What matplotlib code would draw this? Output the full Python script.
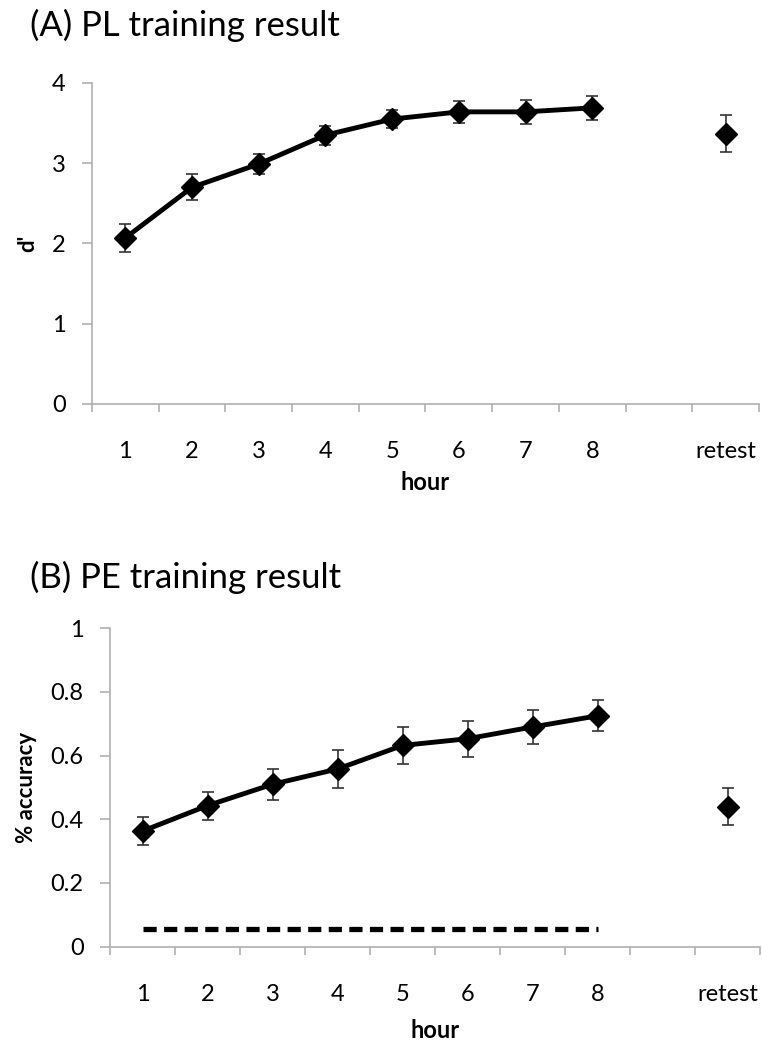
import matplotlib.pyplot as plt
from matplotlib.ticker import FixedLocator

# category labels (slot 8 is an empty gap before retest)
categories = ["1", "2", "3", "4", "5", "6", "7", "8", "", "retest"]
hours = [0, 1, 2, 3, 4, 5, 6, 7]
retest_pos = 9

# (A) PL training: d'
pl_dprime = [2.07, 2.70, 2.99, 3.35, 3.55, 3.64, 3.64, 3.69]
pl_err = [0.17, 0.16, 0.13, 0.12, 0.11, 0.14, 0.15, 0.15]
pl_retest = 3.37
pl_retest_err = 0.23

# (B) PE training: accuracy
pe_acc = [0.363, 0.443, 0.510, 0.558, 0.632, 0.653, 0.690, 0.725]
pe_err = [0.044, 0.044, 0.049, 0.061, 0.057, 0.057, 0.054, 0.049]
pe_retest = 0.440
pe_retest_err = 0.059
chance = 0.055

plt.rcParams["font.family"] = ["Lato", "DejaVu Sans"]

fig = plt.figure(figsize=(7.62, 10.45), dpi=100)
ax1 = fig.add_axes([0.1207, 0.6134, 0.8753, 0.3072])
ax2 = fig.add_axes([0.1444, 0.0941, 0.8530, 0.3047])

grey = "#b0b0b0"


def style_axes(ax, ylim, yticks, yticklabels, ylabel, xlabelpad):
    ax.set_xlim(-0.5, 9.5)
    ax.set_ylim(*ylim)
    for s in ["top", "right"]:
        ax.spines[s].set_visible(False)
    for s in ["left", "bottom"]:
        ax.spines[s].set_color(grey)
        ax.spines[s].set_linewidth(1.2)
    ax.set_yticks(yticks)
    ax.set_yticklabels(yticklabels)
    ax.tick_params(axis="y", length=7, width=1.2, color=grey, labelsize=17, pad=12)
    ax.set_xticks(range(len(categories)))
    ax.set_xticklabels(categories)
    ax.tick_params(axis="x", which="major", length=0, labelsize=17, pad=27)
    ax.xaxis.set_minor_locator(FixedLocator([i - 0.5 for i in range(len(categories) + 1)]))
    ax.tick_params(axis="x", which="minor", length=6, width=1.2, color=grey, direction="out")
    ax.set_xlabel("hour", fontsize=17, fontweight="bold", labelpad=xlabelpad)
    ax.set_ylabel(ylabel, fontsize=16, fontweight="bold")


def draw_points(ax, values, errors, retest, retest_err):
    ax.errorbar(hours, values, yerr=errors, color="black", lw=3.5, marker="D", ms=11,
                ecolor="#333333", elinewidth=1.2, capsize=4, capthick=1.2)
    ax.errorbar([retest_pos], [retest], yerr=[retest_err], color="black", lw=0, marker="D", ms=11,
                ecolor="#333333", elinewidth=1.2, capsize=4, capthick=1.2)


# panel A
draw_points(ax1, pl_dprime, pl_err, pl_retest, pl_retest_err)
style_axes(ax1, (0, 4), [0, 1, 2, 3, 4], ["0", "1", "2", "3", "4"], "d'", 6)
ax1.yaxis.set_label_coords(-0.081, 0.5)
fig.text(0.039, 0.9655, "(A) PL training result", fontsize=25, ha="left", va="baseline")

# panel B
draw_points(ax2, pe_acc, pe_err, pe_retest, pe_retest_err)
ax2.plot([hours[0], hours[-1]], [chance, chance], color="black", lw=3.8, ls=(0, (2.5, 1.4)))
style_axes(ax2, (0, 1), [0, 0.2, 0.4, 0.6, 0.8, 1.0], ["0", "0.2", "0.4", "0.6", "0.8", "1"], "% accuracy", 10)
ax2.yaxis.set_label_coords(-0.112, 0.5)
fig.text(0.039, 0.437, "(B) PE training result", fontsize=25, ha="left", va="baseline")

fig.savefig("out.png", dpi=100)
